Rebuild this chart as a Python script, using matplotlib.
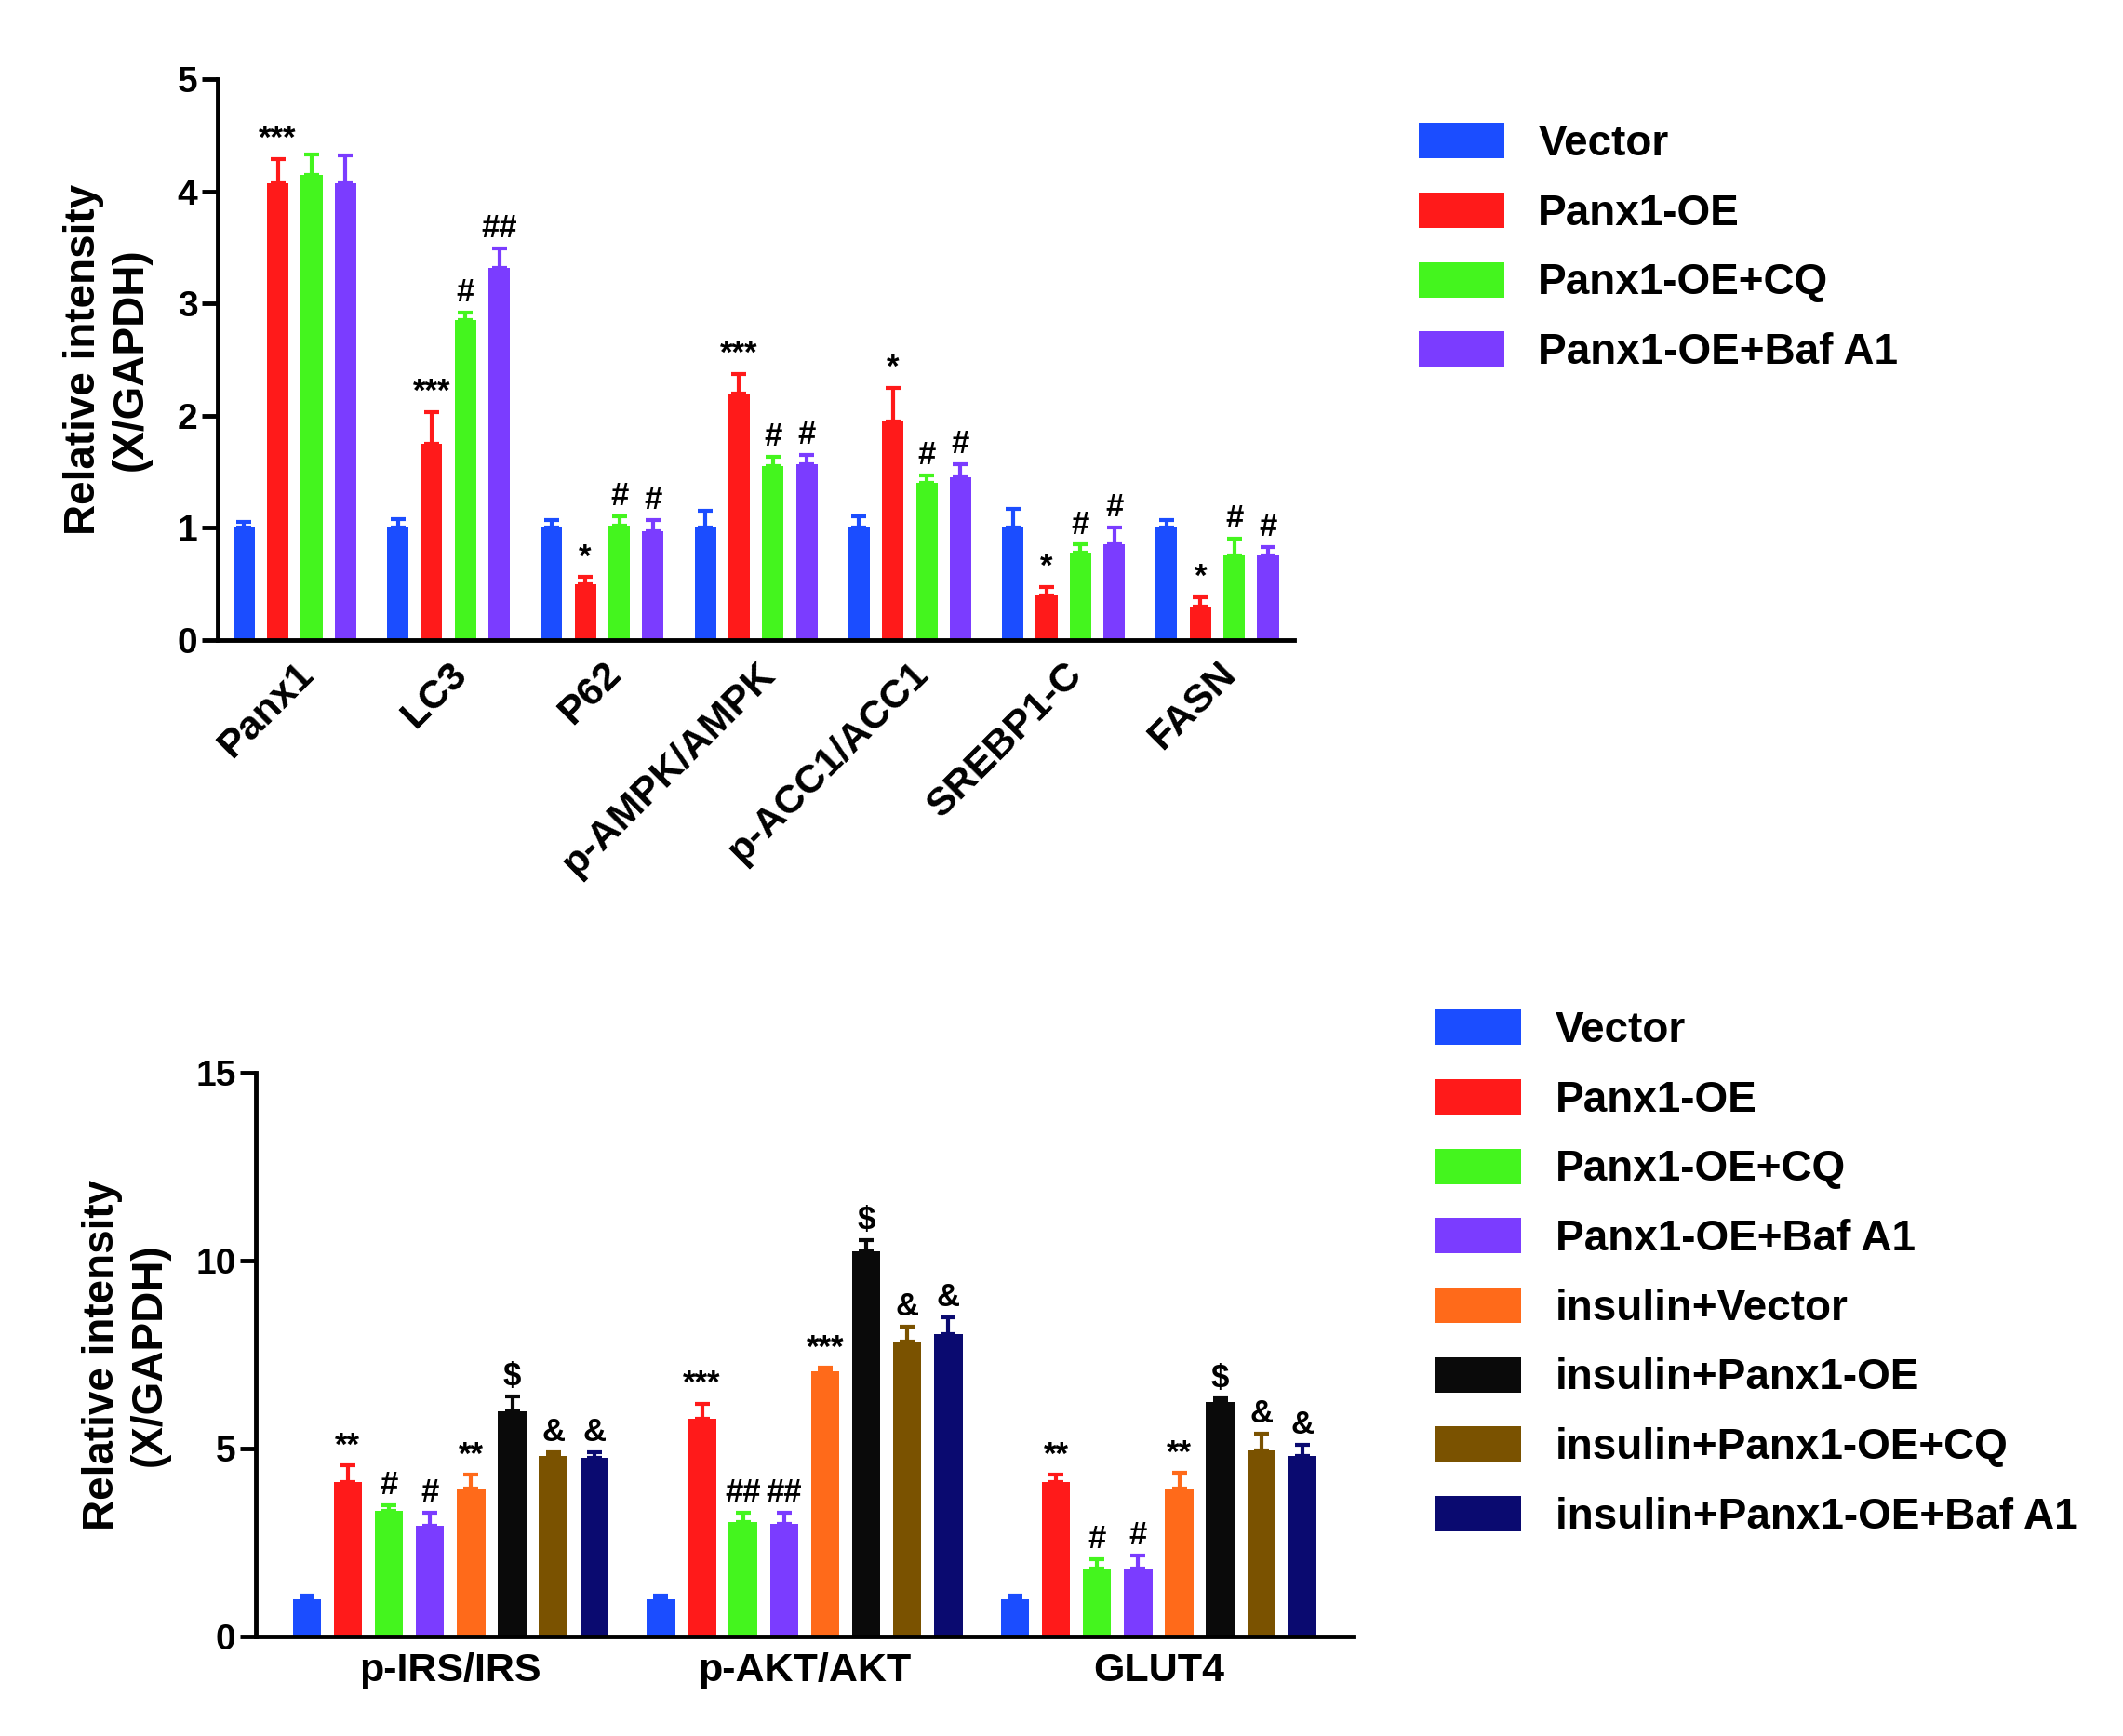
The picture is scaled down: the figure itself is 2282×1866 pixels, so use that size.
import matplotlib
matplotlib.use("Agg")
import matplotlib.pyplot as plt
import numpy as np

plt.rcParams['font.family'] = ['Liberation Sans', 'DejaVu Sans']
plt.rcParams['font.weight'] = 'bold'

top_cats = ["Panx1", "LC3", "P62", "p-AMPK/AMPK", "p-ACC1/ACC1", "SREBP1-C", "FASN"]
top_series = ["Vector", "Panx1-OE", "Panx1-OE+CQ", "Panx1-OE+Baf A1"]
top_vals = [
    [1, 1, 1, 1, 1, 1, 1],
    [4.07, 1.75, 0.5, 2.2, 1.95, 0.4, 0.3],
    [4.15, 2.85, 1.02, 1.55, 1.4, 0.78, 0.75],
    [4.07, 3.32, 0.97, 1.57, 1.45, 0.85, 0.75],
]
top_errs = [
    [0.05, 0.08, 0.07, 0.15, 0.1, 0.17, 0.07],
    [0.22, 0.28, 0.06, 0.17, 0.3, 0.07, 0.08],
    [0.18, 0.07, 0.08, 0.08, 0.07, 0.07, 0.15],
    [0.25, 0.17, 0.1, 0.08, 0.12, 0.15, 0.08],
]
top_marks = [
    ["", "", "", "", "", "", ""],
    ["***", "***", "*", "***", "*", "*", "*"],
    ["", "#", "#", "#", "#", "#", "#"],
    ["", "##", "#", "#", "#", "#", "#"],
]

bot_cats = ["p-IRS/IRS", "p-AKT/AKT", "GLUT4"]
bot_series = ["Vector", "Panx1-OE", "Panx1-OE+CQ", "Panx1-OE+Baf A1", "insulin+Vector",
              "insulin+Panx1-OE", "insulin+Panx1-OE+CQ", "insulin+Panx1-OE+Baf A1"]
bot_vals = [
    [1, 1, 1],
    [4.1, 5.8, 4.1],
    [3.35, 3.05, 1.8],
    [2.95, 3.0, 1.8],
    [3.95, 7.05, 3.95],
    [6.0, 10.25, 6.25],
    [4.8, 7.85, 4.95],
    [4.75, 8.05, 4.8],
]
bot_errs = [
    [0.1, 0.1, 0.1],
    [0.45, 0.4, 0.2],
    [0.15, 0.25, 0.25],
    [0.35, 0.3, 0.35],
    [0.35, 0.1, 0.4],
    [0.4, 0.3, 0.1],
    [0.1, 0.4, 0.45],
    [0.15, 0.45, 0.3],
]
bot_marks = [
    ["", "", ""],
    ["**", "***", "**"],
    ["#", "##", "#"],
    ["#", "##", "#"],
    ["**", "***", "**"],
    ["$", "$", "$"],
    ["&", "&", "&"],
    ["&", "&", "&"],
]
colors = ["#1b4dff", "#ff1a1a", "#44f51e", "#7b3cff", "#ff6a1a", "#0a0a0a", "#7a5200", "#0a0a70"]

fig = plt.figure(figsize=(22.82, 18.66), dpi=100)

def style(ax):
    for s in ["top", "right"]:
        ax.spines[s].set_visible(False)
    for s in ["left", "bottom"]:
        ax.spines[s].set_linewidth(3.5)
    ax.tick_params(width=3.5, length=12, labelsize=28)
    for lab in ax.get_yticklabels():
        lab.set_fontweight('bold')

def draw(ax, cats, series, vals, errs, marks, spacing, width, ymax, markfs):
    x = np.arange(len(cats))
    n = len(series)
    for i in range(n):
        xs = x + (i - (n - 1) / 2) * spacing
        v = np.array(vals[i]); e = np.array(errs[i])
        ax.bar(xs, v, width, color=colors[i], label=series[i])
        ax.errorbar(xs, v, yerr=[np.zeros_like(e), e], fmt='none', ecolor=colors[i],
                    elinewidth=3, capsize=6, capthick=3)
        for xx, vv, ee, m in zip(xs, v, e, marks[i]):
            if m:
                ax.text(xx, vv + ee + ymax * 0.008, m, ha='center', va='bottom',
                        fontsize=markfs, fontweight='bold')
    ax.set_ylim(0, ymax)
    ax.set_xticks(x)
    ax.set_ylabel("Relative intensity\n(X/GAPDH)", fontsize=33, fontweight='bold', labelpad=20)
    style(ax)

ax1 = fig.add_axes([0.1026, 0.6314, 0.507, 0.323])
draw(ax1, top_cats, top_series, top_vals, top_errs, top_marks, 0.22, 0.14, 5, 25)
ax1.set_xlim(-0.5, 6.5)
ax1.set_yticks([0, 1, 2, 3, 4, 5])
ax1.set_xticklabels(top_cats, rotation=45, ha='right', rotation_mode='anchor',
                    fontsize=31, fontweight='bold')
ax1.tick_params(axis='x', length=0, pad=12)
ax1.legend(loc='upper left', bbox_to_anchor=(1.08, 0.99), frameon=False, fontsize=33,
           handlelength=2.0, handleheight=0.9, labelspacing=0.65)

ax2 = fig.add_axes([0.1205, 0.0573, 0.517, 0.3247])
draw(ax2, bot_cats, bot_series, bot_vals, bot_errs, bot_marks, 0.116, 0.08, 15, 25)
ax2.set_xlim(-0.55, 2.55)
ax2.set_yticks([0, 5, 10, 15])
ax2.set_xticklabels(bot_cats, fontsize=31, fontweight='bold')
ax2.tick_params(axis='x', length=0, pad=12)
for lab in ax2.get_yticklabels():
    lab.set_fontweight('bold')
ax2.legend(loc='upper left', bbox_to_anchor=(1.04, 1.18), frameon=False, fontsize=33,
           handlelength=2.0, handleheight=0.9, labelspacing=0.65)

fig.savefig("out.png", dpi=100)
